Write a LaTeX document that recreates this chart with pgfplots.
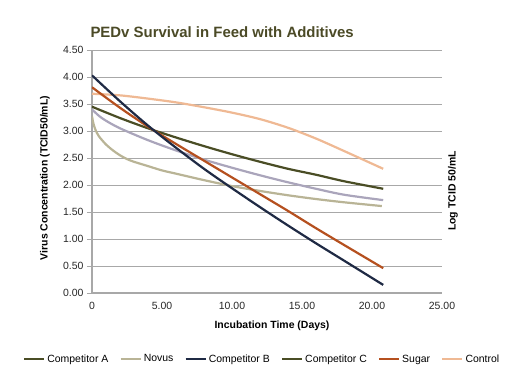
\documentclass[border=0pt]{standalone}
\usepackage{pgfplots}
\pgfplotsset{compat=1.18}
\usepackage{fontspec}
\setmainfont{Liberation Sans}
\definecolor{olive}{HTML}{4A4D25}
\definecolor{tanc}{HTML}{B9B496}
\definecolor{navyc}{HTML}{1F2A44}
\definecolor{lav}{HTML}{AAA5BB}
\definecolor{sugar}{HTML}{B5501F}
\definecolor{ctrl}{HTML}{EFB994}
\definecolor{gridc}{HTML}{A8A8A8}
\definecolor{titlec}{HTML}{4B4A26}
\begin{document}
\begin{tikzpicture}
\useasboundingbox (-92bp,-94bp) rectangle (440bp,293bp);
\begin{axis}[
  at={(0,0)}, anchor=south west,
  scale only axis, width=350bp, height=243bp,
  xmin=0, xmax=25, ymin=0, ymax=4.5,
  axis lines*=left,
  axis line style={gridc, line width=1.2bp},
  xtick={0,5,10,15,20,25},
  xticklabels={0,5.00,10.00,15.00,20.00,25.00},
  ytick={0,0.5,...,4.5},
  yticklabel style={/pgf/number format/.cd,fixed,fixed zerofill,precision=2},
  /pgf/number format/assume math mode=true,
  ymajorgrids, major grid style={gridc, line width=0.9bp},
  xtick style={draw=none},
  ytick style={gridc, line width=0.9bp},
  tick align=outside, major tick length=5bp,
  ticklabel style={font=\fontsize{10.5}{12}\selectfont, text=black!85},
  xticklabel style={yshift=-1bp},
  legend columns=6,
  legend style={at={(0.486,-0.272)}, anchor=center, draw=none, fill=none,
    font=\fontsize{10.5}{12}\selectfont, /tikz/every even column/.append style={column sep=9bp}},
  legend image code/.code={\draw[#1, line width=2.4bp] (0bp,0bp) -- (20bp,0bp);},
  every axis plot/.append style={line width=2.2bp},
]
\addlegendimage{olive}\addlegendentry{Competitor A}
\addlegendimage{tanc}\addlegendentry{Novus}
\addlegendimage{navyc}\addlegendentry{Competitor B}
\addlegendimage{olive}\addlegendentry{Competitor C}
\addlegendimage{sugar}\addlegendentry{Sugar}
\addlegendimage{ctrl}\addlegendentry{Control}
% Control
\addplot[ctrl, smooth, forget plot] coordinates {(0,3.69) (2,3.66) (4,3.60) (6,3.53) (8,3.44) (10,3.34) (12,3.22) (14,3.06) (16,2.86) (18,2.63) (20.8,2.30)};
% Competitor C (olive)
\addplot[olive, smooth, forget plot] coordinates {(0,3.45) (2,3.24) (4,3.05) (6,2.88) (8,2.72) (10,2.57) (12,2.43) (14,2.30) (16,2.19) (18,2.07) (20.8,1.93)};
% lavender
\addplot[lav, smooth, forget plot] coordinates {(0,3.40) (0.5,3.28) (1,3.19) (2,3.05) (4,2.83) (6,2.64) (8,2.47) (10,2.32) (12,2.18) (14,2.05) (16,1.93) (18,1.82) (20.8,1.72)};
% Novus
\addplot[tanc, smooth, forget plot] coordinates {(0,3.27) (0.1,3.14) (0.25,3.02) (0.5,2.90) (1,2.75) (1.5,2.64) (2,2.55) (2.5,2.48) (3,2.43) (4,2.35) (5,2.27) (6,2.21) (8,2.09) (10,1.98) (12,1.89) (14,1.81) (16,1.74) (18,1.68) (20.7,1.61)};
% Sugar
\addplot[sugar, smooth, forget plot] coordinates {(0,3.81) (2,3.43) (4,3.08) (6,2.76) (8,2.45) (10,2.14) (12,1.83) (14,1.52) (16,1.20) (18,0.89) (20.8,0.46)};
% Competitor B
\addplot[navyc, smooth, forget plot] coordinates {(0,4.03) (2,3.55) (4,3.10) (6,2.69) (8,2.30) (10,1.94) (12,1.59) (14,1.25) (16,0.92) (18,0.60) (20.8,0.15)};
\end{axis}
\node[anchor=base west, text=titlec, font=\bfseries\fontsize{15}{17}\selectfont] at (-5bp,255bp) {PEDv Survival in Feed with Additives};
\node[rotate=90, font=\bfseries\fontsize{10.5}{12}\selectfont] at (-47bp,115bp) {Virus Concentration (TCID50/mL)};
\node[rotate=90, font=\bfseries\fontsize{10.5}{12}\selectfont] at (361bp,102bp) {Log TCID 50/mL};
\node[font=\bfseries\fontsize{10.5}{12}\selectfont] at (180bp,-33bp) {Incubation Time (Days)};
\end{tikzpicture}
\end{document}
